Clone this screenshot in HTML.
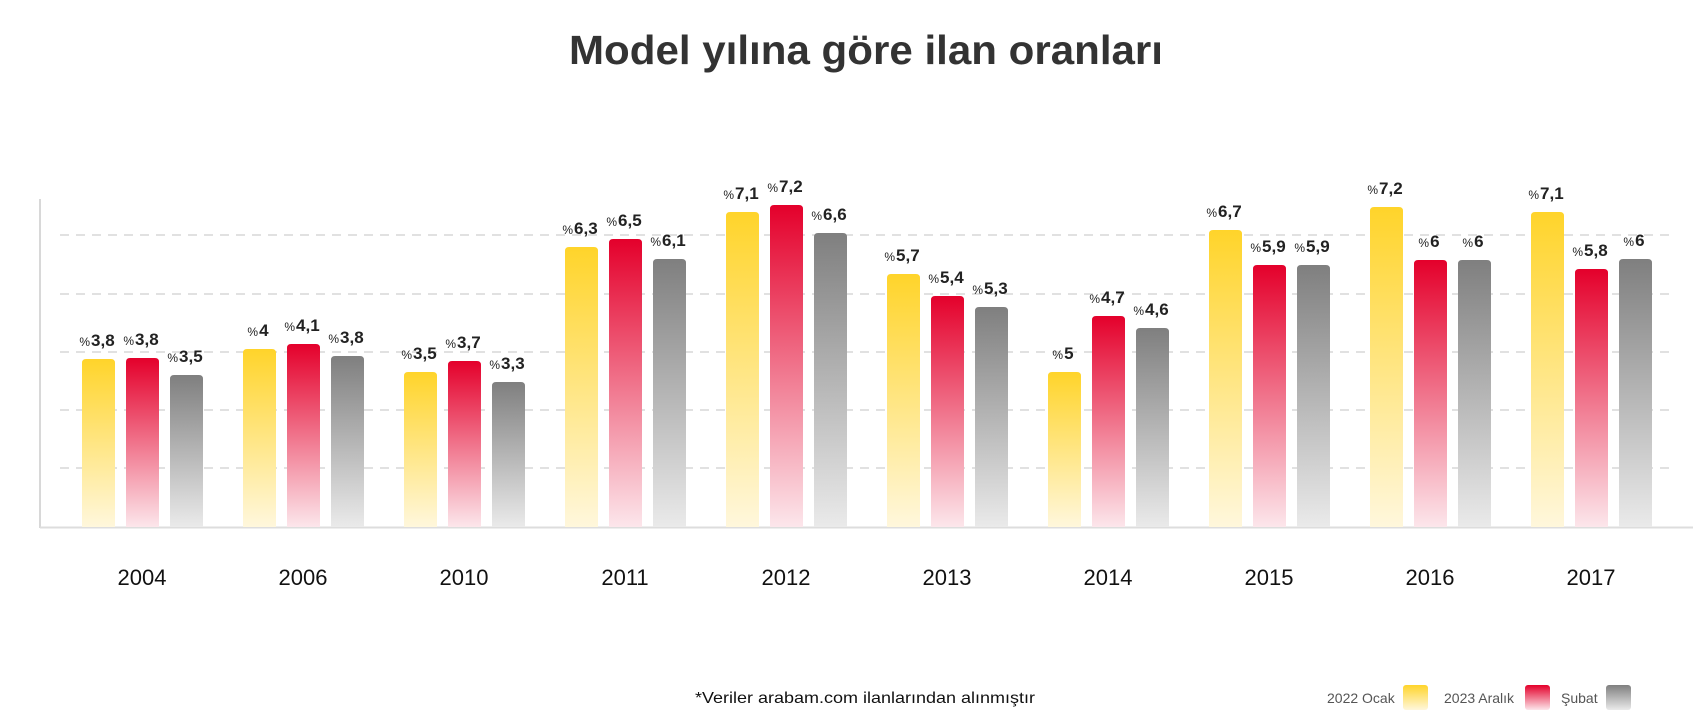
<!DOCTYPE html>
<html><head><meta charset="utf-8"><style>
html,body{margin:0;padding:0;background:#fff;}
svg{display:block;}
</style></head><body>
<svg width="1708" height="726" viewBox="0 0 1708 726" xmlns="http://www.w3.org/2000/svg" font-family="Liberation Sans, DejaVu Sans, sans-serif">
<defs>
<linearGradient id="gy" x1="0" y1="0" x2="0" y2="1"><stop offset="0" stop-color="#FFD42A"/><stop offset="1" stop-color="#FFF7DC"/></linearGradient>
<linearGradient id="gr" x1="0" y1="0" x2="0" y2="1"><stop offset="0" stop-color="#E4002B"/><stop offset="1" stop-color="#FCE6EB"/></linearGradient>
<linearGradient id="gg" x1="0" y1="0" x2="0" y2="1"><stop offset="0" stop-color="#7F7F7F"/><stop offset="1" stop-color="#EAEAEA"/></linearGradient>
</defs>
<text x="866" y="64" text-anchor="middle" font-size="41" font-weight="bold" fill="#333" textLength="594" lengthAdjust="spacingAndGlyphs">Model yılına göre ilan oranları</text>
<g stroke="#cfcfcf" stroke-width="1.3" stroke-dasharray="9,7">
<line x1="60" y1="235" x2="1673" y2="235"/><line x1="60" y1="294" x2="1673" y2="294"/><line x1="60" y1="352" x2="1673" y2="352"/><line x1="60" y1="410" x2="1673" y2="410"/><line x1="60" y1="468" x2="1673" y2="468"/>
</g>
<line x1="40" y1="199" x2="40" y2="528" stroke="#ccc" stroke-width="1.5"/>
<line x1="40" y1="527.5" x2="1693" y2="527.5" stroke="#ddd" stroke-width="2"/>
<g id="bars"></g>
<g font-size="22" fill="#111" text-anchor="middle" id="xl"></g>
<text x="865" y="703" text-anchor="middle" font-size="16" fill="#111" textLength="340" lengthAdjust="spacingAndGlyphs">*Veriler arabam.com ilanlarından alınmıştır</text>
<g font-size="14" fill="#555">
<text x="1327" y="703">2022 Ocak</text><rect x="1403" y="685" width="25" height="25" rx="3" fill="url(#gy)"/>
<text x="1444" y="703">2023 Aralık</text><rect x="1525" y="685" width="25" height="25" rx="3" fill="url(#gr)"/>
<text x="1561" y="703">Şubat</text><rect x="1606" y="685" width="25" height="25" rx="3" fill="url(#gg)"/>
</g>
</svg>
<script>
var years=["2004","2006","2010","2011","2012","2013","2014","2015","2016","2017"];
var tops=[[359,358,375],[349,344,356],[372,361,382],[247,239,259],[212,205,233],[274,296,307],[372,316,328],[230,265,265],[207,260,260],[212,269,259]];
var labs=[["3,8","3,8","3,5"],["4","4,1","3,8"],["3,5","3,7","3,3"],["6,3","6,5","6,1"],["7,1","7,2","6,6"],["5,7","5,4","5,3"],["5","4,7","4,6"],["6,7","5,9","5,9"],["7,2","6","6"],["7,1","5,8","6"]];
var g=["gy","gr","gg"];var s="",xl="";
for(var i=0;i<10;i++){var x0=82+161*i;
for(var j=0;j<3;j++){var x=x0+44*j,t=tops[i][j];
s+='<path d="M'+x+' 527 V'+(t+4)+' Q'+x+' '+t+' '+(x+4)+' '+t+' H'+(x+29)+' Q'+(x+33)+' '+t+' '+(x+33)+' '+(t+4)+' V527 Z" fill="url(#'+g[j]+')"/>';
s+='<text x="'+(x+15)+'" y="'+(t-13)+'" text-anchor="middle" fill="#222"><tspan font-size="12">%</tspan><tspan font-size="17" font-weight="bold" dx="1">'+labs[i][j]+'</tspan></text>';}
xl+='<text x="'+(x0+60)+'" y="585">'+years[i]+'</text>';}
document.getElementById("bars").innerHTML=s;document.getElementById("xl").innerHTML=xl;
</script>
</body></html>
